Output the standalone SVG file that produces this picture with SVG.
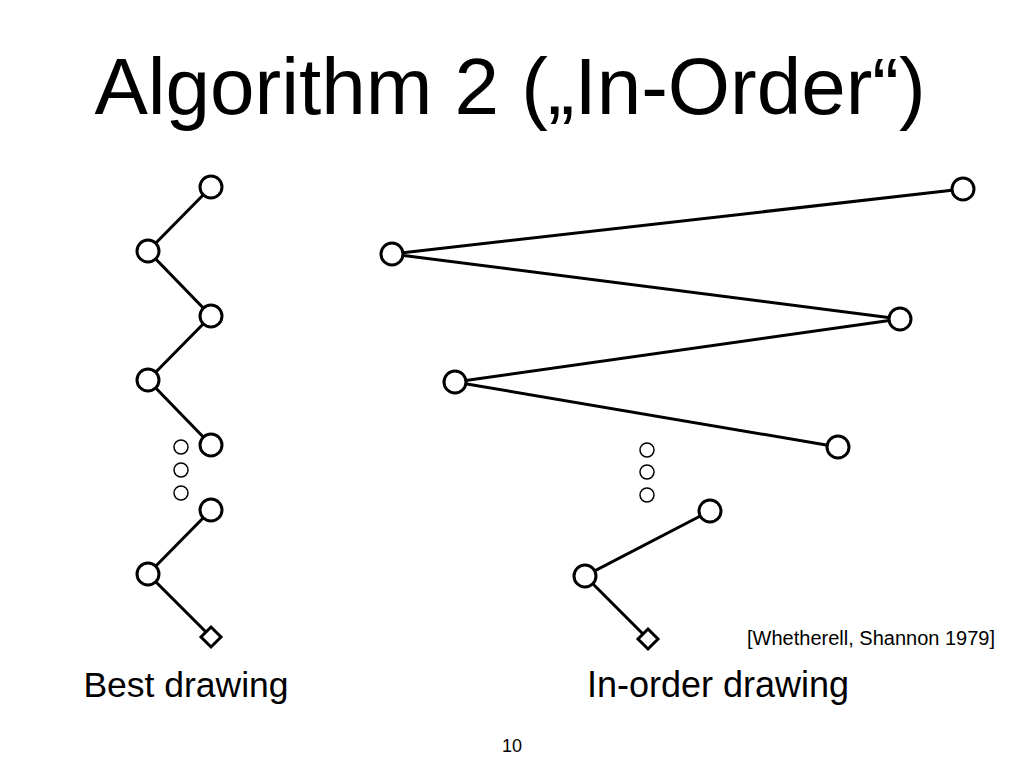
<svg xmlns="http://www.w3.org/2000/svg" width="1024" height="768" viewBox="0 0 1024 768">
<style>
.e{stroke:#000;stroke-width:3;fill:none}
.n{fill:#fff;stroke:#000;stroke-width:3}
.d{fill:#fff;stroke:#000;stroke-width:1.5}
text{font-family:"Liberation Sans",Arial,sans-serif;fill:#000}
</style>
<rect width="1024" height="768" fill="#fff"/>
<text x="510" y="114" font-size="80" text-anchor="middle">Algorithm 2 („In-Order“)</text>
<g id="connectors">
<polyline class="e" points="211,187 148,251 211,316 148,380 211,445"/>
<polyline class="e" points="211,510 148,574 211,637"/>
<polyline class="e" points="963,189 392,254 900,319 455,382 838,447"/>
<polyline class="e" points="710,511 585,576 648,639"/>
</g>
<g id="left">
<circle class="n" cx="211" cy="187" r="11"/>
<circle class="n" cx="148" cy="251" r="11"/>
<circle class="n" cx="211" cy="316" r="11"/>
<circle class="n" cx="148" cy="380" r="11"/>
<circle class="n" cx="211" cy="445" r="11"/>
<circle class="d" cx="181" cy="447" r="7"/>
<circle class="d" cx="181" cy="470" r="7"/>
<circle class="d" cx="181" cy="493" r="7"/>
<circle class="n" cx="211" cy="510" r="11"/>
<circle class="n" cx="148" cy="574" r="11"/>
<polygon class="n" stroke-width="2.5" points="211,627 221,637 211,647 201,637"/>
</g>
<g id="right">
<circle class="n" cx="963" cy="189" r="11"/>
<circle class="n" cx="392" cy="254" r="11"/>
<circle class="n" cx="900" cy="319" r="11"/>
<circle class="n" cx="455" cy="382" r="11"/>
<circle class="n" cx="838" cy="447" r="11"/>
<circle class="d" cx="647" cy="450" r="7"/>
<circle class="d" cx="647" cy="472" r="7"/>
<circle class="d" cx="647" cy="495" r="7"/>
<circle class="n" cx="710" cy="511" r="11"/>
<circle class="n" cx="585" cy="576" r="11"/>
<polygon class="n" stroke-width="2.5" points="648,629 658,639 648,649 638,639"/>
</g>
<text x="995" y="645" font-size="20" text-anchor="end">[Whetherell, Shannon 1979]</text>
<text x="186" y="697" font-size="35.5" text-anchor="middle">Best drawing</text>
<text x="718" y="697" font-size="36" text-anchor="middle">In-order drawing</text>
<text x="512" y="752" font-size="18" text-anchor="middle">10</text>
</svg>
